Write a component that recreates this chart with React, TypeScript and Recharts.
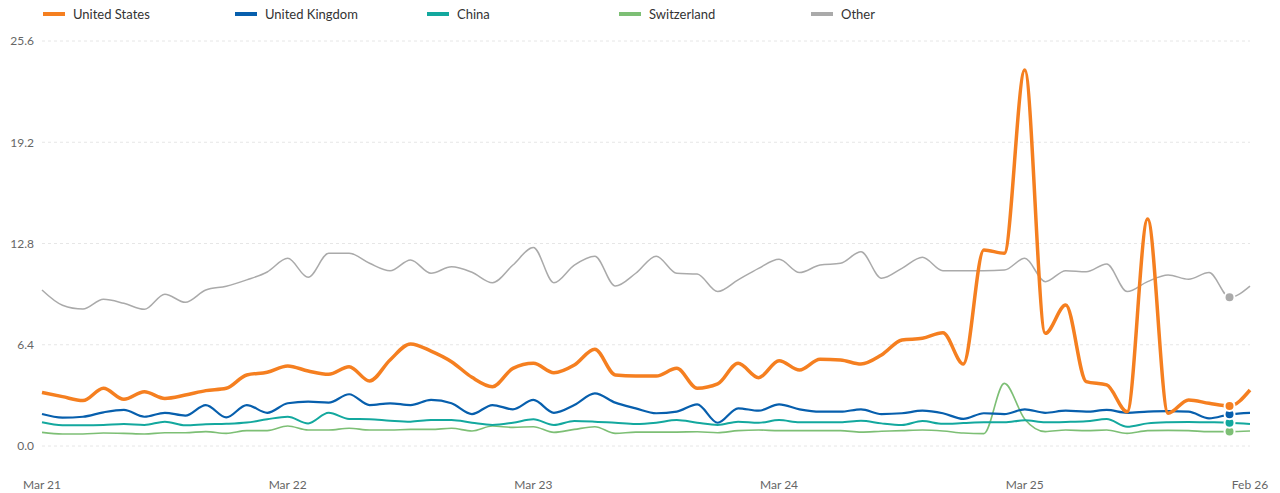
import React from 'react';
import { LineChart, Line, XAxis, YAxis, CartesianGrid } from 'recharts';

const months: string[] = [
  'Mar 21', 'Apr 21', 'May 21', 'Jun 21', 'Jul 21', 'Aug 21', 'Sep 21', 'Oct 21', 'Nov 21', 'Dec 21', 'Jan 22', 'Feb 22',
  'Mar 22', 'Apr 22', 'May 22', 'Jun 22', 'Jul 22', 'Aug 22', 'Sep 22', 'Oct 22', 'Nov 22', 'Dec 22', 'Jan 23', 'Feb 23',
  'Mar 23', 'Apr 23', 'May 23', 'Jun 23', 'Jul 23', 'Aug 23', 'Sep 23', 'Oct 23', 'Nov 23', 'Dec 23', 'Jan 24', 'Feb 24',
  'Mar 24', 'Apr 24', 'May 24', 'Jun 24', 'Jul 24', 'Aug 24', 'Sep 24', 'Oct 24', 'Nov 24', 'Dec 24', 'Jan 25', 'Feb 25',
  'Mar 25', 'Apr 25', 'May 25', 'Jun 25', 'Jul 25', 'Aug 25', 'Sep 25', 'Oct 25', 'Nov 25', 'Dec 25', 'Jan 26', 'Feb 26',
];

const tickMonths = ['Mar 21', 'Mar 22', 'Mar 23', 'Mar 24', 'Mar 25', 'Feb 26'];
const yTicks = [0, 6.4, 12.8, 19.2, 25.6];

const unitedStates = [
  3.39, 3.12, 2.87, 3.65, 2.95, 3.43, 3.01, 3.22, 3.5, 3.65, 4.49, 4.66,
  5.06, 4.74, 4.53, 5.01, 4.11, 5.44, 6.45, 6.0, 5.33, 4.34, 3.75, 4.91,
  5.23, 4.63, 5.12, 6.11, 4.49, 4.42, 4.42, 4.91, 3.65, 3.92, 5.23, 4.32,
  5.39, 4.8, 5.48, 5.44, 5.18, 5.75, 6.7, 6.81, 7.16, 5.18, 12.39, 12.18,
  23.77, 7.12, 8.91, 4.07, 3.86, 2.17, 14.35, 2.07, 2.91, 2.7, 2.53, 3.54,
];
const unitedKingdom = [
  2.02, 1.79, 1.85, 2.13, 2.28, 1.85, 2.1, 1.92, 2.59, 1.81, 2.59, 2.1,
  2.7, 2.8, 2.74, 3.27, 2.59, 2.7, 2.59, 2.91, 2.7, 2.02, 2.59, 2.32,
  2.91, 2.1, 2.59, 3.33, 2.74, 2.38, 2.07, 2.17, 2.63, 1.47, 2.38, 2.23,
  2.63, 2.32, 2.17, 2.17, 2.32, 2.02, 2.07, 2.23, 2.07, 1.71, 2.07, 2.02,
  2.32, 2.1, 2.23, 2.17, 2.28, 2.1, 2.17, 2.2, 2.17, 1.75, 2.0, 2.1,
];
const china = [
  1.5, 1.31, 1.31, 1.33, 1.39, 1.33, 1.54, 1.31, 1.37, 1.4, 1.48, 1.69,
  1.85, 1.43, 2.1, 1.71, 1.69, 1.6, 1.54, 1.64, 1.64, 1.47, 1.33, 1.47,
  1.69, 1.33, 1.58, 1.54, 1.47, 1.39, 1.47, 1.64, 1.47, 1.33, 1.54, 1.47,
  1.64, 1.5, 1.5, 1.5, 1.6, 1.43, 1.33, 1.58, 1.4, 1.45, 1.5, 1.5,
  1.62, 1.5, 1.52, 1.56, 1.71, 1.22, 1.43, 1.5, 1.52, 1.5, 1.47, 1.39,
];
const switzerland = [
  0.86, 0.76, 0.76, 0.82, 0.8, 0.76, 0.84, 0.84, 0.91, 0.8, 0.97, 0.97,
  1.26, 1.01, 1.01, 1.12, 1.01, 1.01, 1.05, 1.05, 1.12, 0.95, 1.26, 1.18,
  1.22, 0.86, 1.05, 1.22, 0.8, 0.88, 0.88, 0.88, 0.9, 0.84, 0.97, 1.01,
  0.97, 0.97, 0.97, 0.97, 0.88, 0.93, 0.97, 1.01, 0.95, 0.82, 0.78, 3.96,
  1.69, 0.91, 1.01, 0.97, 1.01, 0.8, 0.97, 0.99, 0.97, 0.91, 0.91, 0.95,
];
const other = [
  9.86, 8.9, 8.66, 9.27, 9.02, 8.64, 9.6, 9.08, 9.86, 10.1, 10.5, 11.0,
  11.86, 10.66, 12.18, 12.18, 11.55, 11.08, 11.76, 10.92, 11.33, 10.98, 10.32, 11.44,
  12.55, 10.32, 11.44, 12.0, 10.11, 10.92, 12.0, 10.92, 10.87, 9.76, 10.5, 11.23,
  11.8, 10.96, 11.44, 11.55, 12.28, 10.6, 11.23, 11.93, 11.08, 11.08, 11.08, 11.12,
  11.86, 10.39, 11.08, 11.01, 11.5, 9.76, 10.39, 10.81, 10.54, 10.96, 9.4, 10.11,
];

const series = [
  { key: 'us', name: 'United States', color: '#f57f20', width: 3.5, values: unitedStates },
  { key: 'uk', name: 'United Kingdom', color: '#075fad', width: 2.2, values: unitedKingdom },
  { key: 'cn', name: 'China', color: '#13a89e', width: 2, values: china },
  { key: 'ch', name: 'Switzerland', color: '#7dbf75', width: 1.6, values: switzerland },
  { key: 'ot', name: 'Other', color: '#aaaaaa', width: 1.5, values: other },
];

const data = months.map((m, i) => {
  const row: Record<string, number | string> = { i, month: m };
  series.forEach((s) => { row[s.key] = s.values[i]; });
  return row;
});

// the highlighted point sits one month before the last one
const markIndex = months.length - 2;
const tickIdx = tickMonths.map((t) => months.indexOf(t));

const makeDot = (color: string) => (props: any) => {
  const { cx, cy, index } = props;
  if (index !== markIndex) return <g key={`d-${index}`} />;
  return <circle key={`d-${index}`} cx={cx} cy={cy} r={5} fill={color} stroke="#fff" strokeWidth={2} />;
};

const App: React.FC = () => {
  return (
    <div style={{ position: 'absolute', left: 0, top: 0, width: 1280, height: 493, background: '#fff', fontFamily: 'Lato, sans-serif' }}>
      <div style={{ position: 'absolute', top: 5, left: 0, height: 18 }}>
        {series.map((s, k) => (
          <div key={s.key} style={{ position: 'absolute', left: 43 + k * 192, top: 0, display: 'flex', alignItems: 'center', height: 18, whiteSpace: 'nowrap' }}>
            <div style={{ width: 22, height: 4, background: s.color, marginRight: 8 }} />
            <span style={{ fontSize: 13, color: '#333' }}>{s.name}</span>
          </div>
        ))}
      </div>
      <LineChart width={1280} height={493} data={data} margin={{ top: 41, right: 30, left: 0, bottom: 0 }}>
        <CartesianGrid vertical={false} stroke="#e6e6e6" strokeDasharray="3 3" />
        <XAxis
          dataKey="i"
          type="number"
          domain={[0, months.length - 1]}
          ticks={tickIdx}
          tickFormatter={(v: number) => months[v]}
          axisLine={false}
          tickLine={false}
          tickMargin={28}
          height={47}
          tick={{ fill: '#666', fontSize: 12 }}
        />
        <YAxis
          domain={[0, 25.6]}
          ticks={yTicks}
          tickFormatter={(v: number) => v.toFixed(1)}
          axisLine={false}
          tickLine={false}
          width={42}
          tick={{ fill: '#666', fontSize: 12 }}
        />
        {[...series].reverse().map((s) => (
          <Line
            key={s.key}
            type="monotone"
            dataKey={s.key}
            name={s.name}
            stroke={s.color}
            strokeWidth={s.width}
            dot={makeDot(s.color)}
            activeDot={false}
            isAnimationActive={false}
          />
        ))}
      </LineChart>
    </div>
  );
};

export default App;
